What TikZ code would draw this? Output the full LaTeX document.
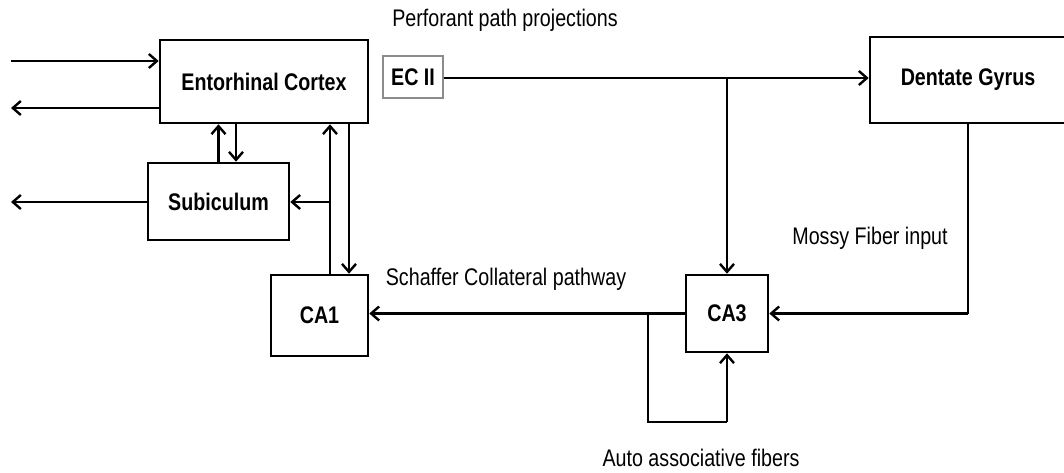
\documentclass[tikz,border=0pt]{standalone}
\usepackage{fontspec}
\setmainfont{Liberation Sans}[FakeStretch=0.82]
\usetikzlibrary{arrows.meta}

\begin{document}
\begin{tikzpicture}[
		x=1pt, y=-1pt,
		region/.style={draw, line width=2.6pt, font=\fontsize{24}{28}\selectfont\bfseries, inner sep=0pt},
		layer/.style={draw=black!45, line width=1.3pt, font=\fontsize{24}{28}\selectfont\bfseries, inner sep=0pt},
		caption/.style={font=\fontsize{24}{28}\selectfont, inner sep=0pt},
		fiber/.style={line width=2.4pt},
		path/.style={fiber, -{Straight Barb[length=8pt,width=14pt,line width=2.4pt]}}
		]
		\useasboundingbox (0,0) rectangle (1064,472);
		% regions
		\node[region, minimum width=208pt, minimum height=83pt] (ec) at (264,81.5) {Entorhinal Cortex};
		\node[region, minimum width=141pt, minimum height=77pt] (sub) at (218.5,201.5) {Subiculum};
		\node[region, minimum width=97pt, minimum height=81pt] (ca1) at (319.5,315.5) {CA1};
		\node[region, minimum width=82pt, minimum height=77pt] (ca3) at (727,313.5) {CA3};
		\node[region, minimum width=196pt, minimum height=86pt] (dg) at (968,80) {Dentate Gyrus};
		\node[layer, minimum width=60pt, minimum height=42pt] (ecii) at (413,77) {EC II};
		% labels
		\node[caption] (perforant) at (505,20) {Perforant path projections};
		\node[caption] (schaffer) at (506,279) {Schaffer Collateral pathway};
		\node[caption] (mossy) at (870,238) {Mossy Fiber input};
		\node[caption] (auto) at (701,458) {Auto associative fibers};
		% free ends and branch points
		\coordinate (inL) at (11,61);
		\coordinate (outEC) at (11,108);
		\coordinate (outSub) at (11,202);
		\coordinate (split) at (727,78);
		\coordinate (back) at (330,202);
		\coordinate (loopA) at (648,313.5);
		\coordinate (loopB) at (648,422);
		\coordinate (loopC) at (727,422);
		\coordinate (mossyA) at (968,313.5);
		% connections
		\draw[path] (inL) -- (inL -| ec.west);
		\draw[path] (ec.west |- outEC) -- (outEC);
		\draw[path] (sub.west |- outSub) -- (outSub);
		\draw[path] (sub.north) -- (sub.north |- ec.south);
		\draw[path] ([xshift=17.5pt]ec.south -| sub.north) -- ([xshift=17.5pt]sub.north);
		\draw[path] (ca1.north -| back) -- (ec.south -| back);
		\draw[path] (back) -- (sub.east |- back);
		\draw[path] (ec.south -| 349,0) -- (ca1.north -| 349,0);
		\draw[path] (ecii.east |- split) -- (dg.west |- split);
		\draw[path] (split) -- (ca3.north);
		\draw[fiber] (dg.south) -- (mossyA);
		\draw[path] (mossyA) -- (ca3.east);
		\draw[path] (ca3.west) -- (ca3.west -| ca1.east);
		\draw[fiber] (loopA) -- (loopB) -- (loopC);
		\draw[path] (loopC) -- (ca3.south);
\end{tikzpicture}
\end{document}
